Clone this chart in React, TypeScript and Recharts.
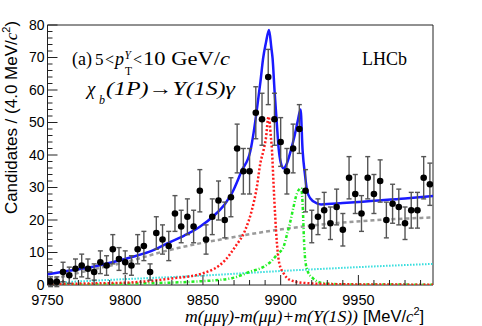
import React from "react";
import { ComposedChart, Line, Scatter, XAxis, YAxis, ErrorBar, ReferenceArea } from "recharts";

// ---------- data ----------
const massBins = [
  9752, 9756, 9760, 9764, 9768, 9772, 9776, 9780, 9784, 9788,
  9792, 9796, 9800, 9804, 9808, 9812, 9816, 9820, 9824, 9828,
  9832, 9836, 9840, 9844, 9848, 9852, 9856, 9860, 9864, 9868,
  9872, 9876, 9880, 9884, 9888, 9892, 9896, 9900, 9904, 9908,
  9912, 9916, 9920, 9924, 9928, 9932, 9936, 9940, 9944, 9948,
  9952, 9956, 9960, 9964, 9968, 9972, 9976, 9980, 9984, 9988,
  9992, 9996,
];
const candidates = [
  1, 1, 4, 3, 5, 6, 5, 4, 7, 6,
  11, 8, 7, 6, 11, 12, 4, 16, 14, 12,
  22, 18, 21, 18, 29, 14, 21, 26, 20, 27,
  42, 35, 35, 53, 51, 64, 51, 44, 35, 42,
  48, 29, 18, 21, 23, 19, 24, 17, 33, 28,
  22, 33, 28, 32, 20, 25, 24, 19, 23, 23,
  33, 31,
];
const candidateErrors = [
  1.5, 1.5, 3, 2.5, 3, 3.5, 3, 2.5, 3.5, 3,
  4.5, 3.5, 3.5, 3, 4.5, 4.5, 2.5, 5, 4.5, 4.5,
  5.5, 5, 5.5, 5, 6.5, 4.5, 5.5, 6, 5.5, 6,
  7.5, 7, 7, 8, 8, 8.5, 8, 7.5, 7, 7.5,
  7.5, 6.5, 5, 5.5, 5.5, 5, 5.5, 5, 6.5, 6,
  5.5, 6.5, 6, 6.5, 5.5, 6, 5.5, 5, 5.5, 5.5,
  6.5, 6.5,
];

const totalFitMass = [
  9750, 9760, 9776, 9791, 9805, 9817, 9827, 9838, 9848, 9857,
  9864.4, 9868.7, 9875, 9880.5, 9882.7, 9884.8, 9887, 9888.7, 9890.5, 9892.5,
  9894, 9894.8, 9896.1, 9897.6, 9898.7, 9900, 9901.9, 9904, 9906.6, 9909,
  9911, 9912.8, 9914.1, 9915.8, 9916.9, 9919, 9923.4, 9926, 9940, 9960,
  9980, 9998,
];
const totalFitValue = [
  3.3, 4.1, 5.3, 6.9, 8.7, 10.5, 12.8, 15.2, 17.9, 21.3,
  25.1, 28.3, 35.2, 41.2, 47.2, 54.4, 62.6, 69.7, 74.5, 78.5,
  73, 69.7, 59.5, 49.2, 42, 37.8, 35.9, 37.4, 41.5, 46,
  50.5, 54, 41.5, 33.3, 29.2, 26.7, 25.1, 24.8, 25.2, 25.9,
  26.6, 27.4,
];

const chib1Mass = [
  9750, 9780, 9800, 9830, 9850, 9864.4, 9870.8, 9877.2, 9881.5, 9884.7,
  9886.9, 9889, 9890.5, 9892.2, 9893.8, 9894.4, 9895.4, 9896.5, 9897.6, 9899.1,
  9901.9, 9906.2, 9913.7, 9930, 9960, 9998,
];
const chib1Value = [
  0.3, 0.5, 0.7, 2.0, 3.6, 7.7, 11.8, 16.9, 23.1, 30.2,
  37.4, 41.5, 45.1, 51.8, 45.1, 41.5, 31.3, 21, 12.8, 6.7,
  3.6, 1.5, 0.7, 0.3, 0.15, 0.1,
];

const chib2Mass = [
  9750, 9800, 9850, 9868.7, 9880.4, 9889, 9893.3, 9898, 9901.9, 9904,
  9906.2, 9908.3, 9910.5, 9913.2, 9914.3, 9914.9, 9915.8, 9917.5, 9920.7, 9926,
  9940, 9998,
];
const chib2Value = [
  0.1, 0.4, 1.2, 2.1, 4.1, 5.6, 7.0, 9.5, 11.8, 15.4,
  19.5, 24.1, 28.2, 29.8, 23, 15, 7.7, 4.1, 2.1, 0.7,
  0.2, 0.1,
];

const combBkgMass = [9750, 9760, 9773, 9786, 9800, 9827, 9850, 9865, 9880, 9897, 9913, 9930, 9960, 9998];
const combBkgValue = [1.5, 2.6, 4.1, 5.5, 7.0, 10.6, 13.0, 14.3, 15.6, 16.9, 17.9, 18.8, 19.9, 20.8];

const otherBkgMass = [9750, 9800, 9850, 9900, 9950, 9998];
const otherBkgValue = [0.6, 1.8, 2.9, 4.3, 5.5, 6.5];

const xTicks = [
  9750, 9760, 9770, 9780, 9790, 9800, 9810, 9820, 9830, 9840,
  9850, 9860, 9870, 9880, 9890, 9900, 9910, 9920, 9930, 9940,
  9950, 9960, 9970, 9980, 9990,
];
const xMajorLabels = [9750, 9800, 9850, 9900, 9950];
const yTicks = [
  0, 2, 4, 6, 8, 10, 12, 14, 16, 18, 20, 22, 24, 26, 28, 30, 32, 34, 36, 38,
  40, 42, 44, 46, 48, 50, 52, 54, 56, 58, 60, 62, 64, 66, 68, 70, 72, 74, 76, 78, 80,
];
const yMajorLabels = [0, 10, 20, 30, 40, 50, 60, 70, 80];

// ---------- build tables ----------
const toPoints = (xs: number[], ys: number[]) => xs.map((m, i) => ({ m, v: ys[i] }));
const dataPoints = massBins.map((m, i) => ({ m, v: candidates[i], e: candidateErrors[i] }));
const totalPts = toPoints(totalFitMass, totalFitValue);
const chib1Pts = toPoints(chib1Mass, chib1Value);
const chib2Pts = toPoints(chib2Mass, chib2Value);
const combPts = toPoints(combBkgMass, combBkgValue);
const otherPts = toPoints(otherBkgMass, otherBkgValue);

const SANS = "'Liberation Sans', Arial, Helvetica, sans-serif";
const SERIF = "'Liberation Serif', 'Times New Roman', Times, serif";

function YTick(props: any) {
  const { x, y, payload } = props;
  const v = payload.value as number;
  const major = yMajorLabels.includes(v);
  return (
    <g>
      <line x1={x} x2={x + (major ? 10 : 5)} y1={y} y2={y} stroke="#222" strokeWidth={1} />
      {major && (
        <text x={x - 3} y={y} dy="0.34em" textAnchor="end" fontSize={14} fontFamily={SANS} fill="#000">
          {v}
        </text>
      )}
    </g>
  );
}

function XTick(props: any) {
  const { x, y, payload } = props;
  const v = payload.value as number;
  const major = xMajorLabels.includes(v);
  return (
    <g>
      <line x1={x} x2={x} y1={y} y2={y - (major ? 10 : 5)} stroke="#222" strokeWidth={1} />
      {major && (
        <text x={x} y={y + 19.5} textAnchor="middle" fontSize={14.5} fontFamily={SANS} fill="#000">
          {v}
        </text>
      )}
    </g>
  );
}

const renderDot = (props: any) => <circle cx={props.cx} cy={props.cy} r={3.3} fill="#000" />;

export default function App() {
  return (
    <div style={{ position: "absolute", left: 0, top: 0, width: 482, height: 326, background: "#fff" }}>
      <ComposedChart width={482} height={326} margin={{ top: 25, right: 49, bottom: 0, left: 0 }}>
        <XAxis
          type="number"
          dataKey="m"
          domain={[9750, 9998]}
          ticks={xTicks}
          interval={0}
          tick={<XTick />}
          tickLine={false}
          axisLine={false}
          tickSize={0}
          tickMargin={0}
          height={41}
          allowDataOverflow
        />
        <YAxis
          type="number"
          domain={[0, 80]}
          ticks={yTicks}
          interval={0}
          tick={<YTick />}
          tickLine={false}
          axisLine={false}
          tickSize={0}
          tickMargin={0}
          width={47.5}
          allowDataOverflow
        />
        <Line data={otherPts} dataKey="v" type="monotone" stroke="#33dddd" strokeWidth={2} strokeDasharray="1.5 1.5" dot={false} isAnimationActive={false} />
        <Line data={combPts} dataKey="v" type="monotone" stroke="#9a9a9a" strokeWidth={2.5} strokeDasharray="4 3" dot={false} isAnimationActive={false} />
        <Line data={chib2Pts} dataKey="v" type="monotone" stroke="#22ee22" strokeWidth={2.5} strokeDasharray="3 2 1 2" dot={false} isAnimationActive={false} />
        <Line data={chib1Pts} dataKey="v" type="monotone" stroke="#ff1a1a" strokeWidth={2.5} strokeDasharray="2 2" dot={false} isAnimationActive={false} />
        <Line data={totalPts} dataKey="v" type="monotone" stroke="#1a1aff" strokeWidth={2.5} dot={false} isAnimationActive={false} />
        <Scatter data={dataPoints} dataKey="v" fill="#000" shape={renderDot} isAnimationActive={false}>
          <ErrorBar dataKey="e" direction="y" width={2.5} stroke="#555" strokeWidth={1.4} />
        </Scatter>
        <ReferenceArea x1={9750} x2={9998} y1={0} y2={80} fill="none" fillOpacity={0} stroke="#222" strokeWidth={1} ifOverflow="visible" />
      </ComposedChart>

      <svg width={482} height={326} style={{ position: "absolute", left: 0, top: 0, pointerEvents: "none" }}>
        {/* y axis title */}
        <text transform="translate(17,117.5) rotate(-90)" textAnchor="middle" fontSize={17} fontFamily={SANS} fill="#000">
          Candidates / (4.0 MeV/<tspan fontFamily={SERIF} fontStyle="italic">c</tspan>
          <tspan fontSize={11} dy={-7}>2</tspan>
          <tspan dy={7}>)</tspan>
        </text>

        {/* x axis title */}
        <text x={185} y={322} fontSize={16.5} fontFamily={SERIF} fontStyle="italic" fill="#000" textLength={173} lengthAdjust="spacingAndGlyphs">
          m(μμγ)-m(μμ)+m(Υ(1S))
        </text>
        <text x={363} y={322} fontSize={16.5} fontFamily={SANS} fill="#000">
          [MeV/<tspan fontFamily={SERIF} fontStyle="italic">c</tspan>
          <tspan fontSize={11} dy={-7}>2</tspan>
          <tspan dy={7}>]</tspan>
        </text>

        {/* annotation line 1 */}
        <text x={72} y={65} fontSize={18} fontFamily={SERIF} fill="#000">(a)</text>
        <text x={95} y={65} fontSize={17} fontFamily={SERIF} fill="#000">5</text>
        <text x={105} y={65} fontSize={16} fontFamily={SERIF} fill="#000">&lt;</text>
        <text x={115} y={65} fontSize={18} fontFamily={SERIF} fontStyle="italic" fill="#000">p</text>
        <text x={124.5} y={59} fontSize={11.5} fontFamily={SERIF} fontStyle="italic" fill="#000">Υ</text>
        <text x={125} y={75} fontSize={11.5} fontFamily={SERIF} fill="#000">T</text>
        <text x={133} y={65} fontSize={16} fontFamily={SERIF} fill="#000">&lt;</text>
        <text x={143} y={65} fontSize={19} fontFamily={SERIF} fill="#000" textLength={87} lengthAdjust="spacingAndGlyphs">
          10 GeV/<tspan fontStyle="italic">c</tspan>
        </text>

        {/* annotation line 2 */}
        <text x={87} y={95} fontSize={19} fontFamily={SERIF} fontStyle="italic" fill="#000">χ</text>
        <text x={99} y={104} fontSize={12} fontFamily={SERIF} fontStyle="italic" fill="#000">b</text>
        <text x={106} y={95} fontSize={19} fontFamily={SERIF} fontStyle="italic" fill="#000" textLength={129} lengthAdjust="spacingAndGlyphs">
          (1P)→Υ(1S)γ
        </text>

        {/* experiment label */}
        <text x={362} y={65} fontSize={18} fontFamily={SERIF} fill="#000">LHCb</text>
      </svg>
    </div>
  );
}
